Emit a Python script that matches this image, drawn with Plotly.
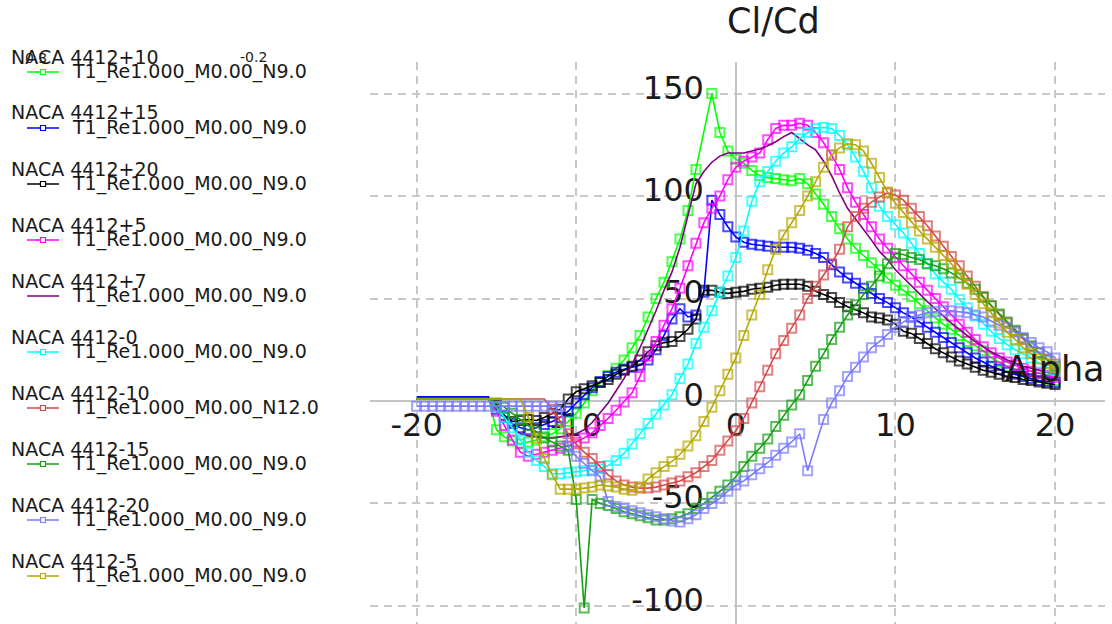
import plotly.graph_objects as go

# Angle of attack grid (deg), step 0.5 from -20 to 20
ALPHA = [i / 2 for i in range(-40, 41)]

GROUP_TITLES = ["NACA 4412+10", "NACA 4412+15", "NACA 4412+20", "NACA 4412+5", "NACA 4412+7",
                "NACA 4412-0", "NACA 4412-10", "NACA 4412-15", "NACA 4412-20", "NACA 4412-5"]
POLAR_NAMES = ["T1_Re1.000_M0.00_N9.0"] * 6 + ["T1_Re1.000_M0.00_N12.0"] + ["T1_Re1.000_M0.00_N9.0"] * 3

clcd_p10 = [1.5] * 10 + [
    -14, -17.5, -19.5, -21, -20, -19, -17.5, -16, -13.5, -10,
    -6, -1, 5, 9, 12.5, 16, 20, 26, 32, 41,
    50, 58, 68, 79, 93, 113, None, 150, 131, 122,
    118, 116, 112.5, 110, 109, 108.5, 108, 107.5, 108.5, 106,
    101, 96, 90, 84, 79, 74.5, 71, 67.5, 64, 60,
    56.5, 54, 51, 47.5, 44, 40.5, 37.5, 35, 32, 29,
    27, 24.5, 21, 19, 17, 15.5, 14, 12.5, 11.5, 10.5,
    10]
clcd_p15 = [2.0] * 10 + [
    -4, -8, -11, -13, -14, -13, -11.5, -10, -8, -5,
    -1, 3, 6.5, 9.5, 12, 14, 15.5, 16.5, 17.5, 20,
    25, 32, 40, 45, 41, 42, 53, 98, 91, 85,
    80, 77.5, 76.5, 76, 75.5, 75, 75, 75, 74.5, 73.5,
    72, 70, 66.5, 63, 60, 57.5, 55, 52.5, 50, 48,
    45.5, 43, 41, 38.5, 36, 33.5, 31, 28.5, 26, 23.5,
    21, 19, 17, 15.5, 14, 13, 12, 11, 10, 9.5,
    9]
clcd_p20 = [1.0] * 10 + [
    -2, -7, -10, -9.5, -9, -9.5, -8, -6, -4, 1,
    4.5, 6, 7.5, 9, 10.5, 13, 15, 17, 20, 24,
    27, 28.5, 29, 31.5, 35, 40, 54, 54, 53, 52.5,
    53, 53.5, 54.5, 55, 55.5, 56.5, 57, 57, 57, 56,
    53.5, 52, 50.5, 48, 46, 44.5, 43, 41, 40.5, 39.5,
    37.5, 34, 33, 30.5, 28, 25.5, 23.5, 21.5, 19.5, 18,
    16.5, 15, 14, 13, 12, 11.5, 10.5, 10, 9.3, 8.7,
    8]
clcd_p5 = [1.0] * 10 + [
    -5, -12, -19, -25, -27, -26, -25, -24, -23, -22,
    -20, -18, -15.5, -12, -8.5, -4.5, -0.5, 4, 12, 22,
    29, 37, 45, 55, 66, 77, 87, 94, 100, 108,
    114, 117, 119, 121, 127.5, 133, 134.5, 134.5, 135.5, 134.5,
    131, 126, 120, 113, 104, 97, 91, 85, 79, 74.5,
    70, 66, 62, 58, 54, 50, 46, 41.5, 37.5, 33.5,
    30, 26.5, 23.5, 21, 19, 17.5, 16, 14.5, 13.5, 12.5,
    11.5]
clcd_p7 = [1.0] * 10 + [
    -3, -8, -13, -16, -17, -17.5, -18, -18, -17.5, -17,
    -16, -14, -10.5, -6, -1, 5, 11, 18, 26, 35,
    44, 54, 63, 75, 91, 106, 112, 116.5, 119.5, 121,
    121, 121, 122, 123, 124.5, 126.5, 129, 131, 128, 125,
    122.5, 117, 110, 101.5, 94, 89, 84, 78.5, 73, 69,
    64, 60, 56, 52, 48.5, 45, 41.5, 38, 35, 32,
    29, 26.5, 24, 22, 20, 18.5, 17, 16, 15, 14,
    13]
clcd_m0 = [1.0] * 10 + [
    -3, -8, -13, -19, -25, -29, -32, -35.5, -35.5, -35,
    -34.5, -34, -33.5, -33, -31.5, -29, -25.5, -21, -16, -11,
    -6.5, -2, 3, 11, 18, 28, 36, 44, 53, 61,
    70, 83, 97.5, 107, 112, 117, 121, 124, 128, 131,
    133, 133.5, 133, 129.5, 125, 119, 112, 104, 95, 90,
    86, 82, 77, 72, 67, 62, 58, 54.5, 49.5, 45.5,
    41.5, 37.5, 34, 30.5, 27.5, 25, 23, 21, 18.5, 16.5,
    15]
clcd_m10 = [1.0] * 10 + [
    1, 1, 1, 1, 1, 1, 1, -4, -10, -16,
    -21, -25, -28, -32, -36, -39, -41, -42, -42.5, -42.5,
    -42, -41, -40, -39, -37, -35, -32, -29, -24, -19.5,
    -14.5, -8.5, -1, 7, 15, 23, 29.5, 35.5, 42, 50,
    56, 61.5, 67, 74, 85, 90, 94, 97, 99.5, 101.5,
    100.5, 98, 94, 90, 85.5, 80.5, 75.5, 70.5, 66, 61,
    56, 51, 46.5, 42, 38, 34, 30, 26.5, 23.5, 20.5,
    18]
clcd_m15 = [1.0] * 10 + [
    -1, -3, -6, -9, -12, -15, -18, -20, -22, -24,
    -48, -101, -48, -50, -51, -52.5, -54, -55, -56, -57,
    -58, -58, -57.5, -56.5, -55, -52.5, -50, -47, -44, -41,
    -37, -32, -27, -23, -18.5, -12.5, -7, -2, 3, 10,
    17, 23, 30, 36, 42, 47, 52, 56, 61, 67,
    72, 71.5, 70, 69, 67, 66, 64.5, 62.5, 60, 57.5,
    54.5, 50.5, 46.5, 42.5, 38.5, 34.5, 30.5, 27, 23.5, 20,
    17]
clcd_m20 = [-2.5] * 10 + [
    -2.5, -2.5, -2.5, -2.5, -2.5, -2.5, -2.5, -2.5, -2.5, -22.5,
    -27, -30.5, -34, -37, -49, -51.5, -52.5, -53.5, -54.5, -55.5,
    -56.5, -57.5, -58.5, -59, -57.5, -55.5, -52.5, -50, -47.5, -44,
    -41, -39, -36, -33, -30, -26.5, -23, -20, -16, -34,
    None, -9, -1, 5, 12, 16.5, 21.5, 26, 29, 32.5,
    36, 38.5, 41, 42, 43, 43.5, 44, 44, 43.5, 43,
    42, 41, 39, 37, 36, 33.5, 31, 28.5, 26, 24,
    21]
clcd_m5 = [1.0] * 10 + [
    1, 1, 1, 1, -8, -18, -28, -36, -43, -43,
    -43, -42.5, -42, -41, -41.5, -42, -43, -43.5, -42, -38,
    -35, -32, -29.5, -26, -22, -17, -10, -3, 5, 13,
    21, 32, 42, 52, 64, 74, 81, 87, 93, 100,
    107, 114, 120, 123.5, 125.5, 125, 122, 116, 109, 102,
    96.5, 92, 87, 83, 79, 75, 71, 67, 62, 57,
    52, 47.5, 43, 38, 33.5, 30, 26, 23, 20.5, 18,
    16]

SERIES = [clcd_p10, clcd_p15, clcd_p20, clcd_p5, clcd_p7,
          clcd_m0, clcd_m10, clcd_m15, clcd_m20, clcd_m5]

X_TICKS = [-20, -10, 0, 10, 20]
Y_TICKS = [-100, -50, 0, 50, 100, 150]

# ---------------- styles ----------------
COLORS = ["#00ff00", "#0000ff", "#000000", "#ff00ff", "#800080",
          "#00ffff", "#d44a4a", "#12a012", "#7a7aff", "#b5a800"]
MARKER_FROM = [-15, -15, -15, -15, None, -15, -11.5, -15, -20, -13]
FONT = "DejaVu Sans"
TXT = "#1a1a1a"

W, H = 1112, 624
ML, MR, MT, MB = 370, 7, 62, 0
PW, PH = W - ML - MR, H - MT - MB


def px_x(px):
    return (px - ML) / PW


def px_y(py):
    return 1 - (py - MT) / PH


fig = go.Figure()

# axis tick labels drawn first so the curves lie above them
fig.add_trace(go.Scatter(
    x=[-2.0] * len(Y_TICKS), y=[v + 1.5 for v in Y_TICKS],
    text=[str(v) for v in Y_TICKS], mode="text", textposition="middle left",
    textfont=dict(family=FONT, size=32, color=TXT),
    showlegend=False, hoverinfo="skip", cliponaxis=False))
fig.add_trace(go.Scatter(
    x=X_TICKS, y=[-13.3] * len(X_TICKS),
    text=[str(v) for v in X_TICKS], mode="text", textposition="middle center",
    textfont=dict(family=FONT, size=32, color=TXT),
    showlegend=False, hoverinfo="skip", cliponaxis=False))

for i, vals in enumerate(SERIES):
    start = MARKER_FROM[i]
    tr = dict(x=ALPHA, y=vals, connectgaps=True,
              line=dict(color=COLORS[i], width=1.6),
              name=GROUP_TITLES[i], showlegend=False,
              hoverinfo="skip", cliponaxis=False)
    if start is None:
        tr["mode"] = "lines"
    else:
        tr["mode"] = "lines+markers"
        tr["marker"] = dict(symbol="square-open",
                            size=[0 if a < start else 9 for a in ALPHA],
                            color=COLORS[i], line=dict(width=2, color=COLORS[i]))
    fig.add_trace(go.Scatter(**tr))

# ---------------- legend (drawn as text + glyphs) ----------------
annotations = []
shapes = []
for i in range(len(SERIES)):
    ty = 56.5 + 56 * i
    iy = 72 + 56 * i
    annotations.append(dict(text=GROUP_TITLES[i], x=px_x(9), y=px_y(ty),
                            xref="paper", yref="paper", showarrow=False,
                            xanchor="left", yanchor="middle",
                            font=dict(family=FONT, size=19, color=TXT)))
    annotations.append(dict(text=POLAR_NAMES[i], x=px_x(70), y=px_y(iy - 0.5),
                            xref="paper", yref="paper", showarrow=False,
                            xanchor="left", yanchor="middle",
                            font=dict(family=FONT, size=19, color=TXT)))
    shapes.append(dict(type="line", xref="paper", yref="paper",
                       x0=px_x(27), x1=px_x(59), y0=px_y(iy), y1=px_y(iy),
                       line=dict(color=COLORS[i], width=1.5)))
    if MARKER_FROM[i] is not None:
        shapes.append(dict(type="rect", xref="paper", yref="paper",
                           x0=px_x(40.5), x1=px_x(45.5), y0=px_y(iy - 2.5), y1=px_y(iy + 2.5),
                           line=dict(color=COLORS[i], width=1.2), fillcolor="white"))

annotations += [
    dict(text="Cl/Cd", x=px_x(773), y=px_y(21), xref="paper", yref="paper",
         showarrow=False, font=dict(family=FONT, size=35, color=TXT),
         xanchor="center", yanchor="middle"),
    dict(text="Alpha", x=16.75, y=15.5, xref="x", yref="y", showarrow=False,
         font=dict(family=FONT, size=35, color=TXT),
         xanchor="left", yanchor="middle"),
    dict(text="0.3", x=px_x(36), y=px_y(58), xref="paper", yref="paper", showarrow=False,
         xanchor="center", yanchor="middle",
         font=dict(family=FONT, size=14, color=TXT)),
    dict(text="-0.2", x=px_x(253), y=px_y(57), xref="paper", yref="paper", showarrow=False,
         xanchor="center", yanchor="middle",
         font=dict(family=FONT, size=14, color=TXT)),
]

grid = dict(showgrid=True, gridcolor="#c8c8c8", gridwidth=2, griddash="8px,6px",
            zeroline=True, zerolinecolor="#c4c4c4", zerolinewidth=2,
            showline=False, showticklabels=False, ticks="")

fig.update_layout(
    width=W, height=H,
    margin=dict(l=ML, r=MR, t=MT, b=MB),
    paper_bgcolor="white", plot_bgcolor="white",
    xaxis=dict(range=[-22.92, 23.13], tickvals=X_TICKS, **grid),
    yaxis=dict(range=[-108.8, 165.4], tickvals=Y_TICKS, **grid),
    showlegend=False,
    annotations=annotations,
    shapes=shapes,
)

fig.write_html("out.html")
